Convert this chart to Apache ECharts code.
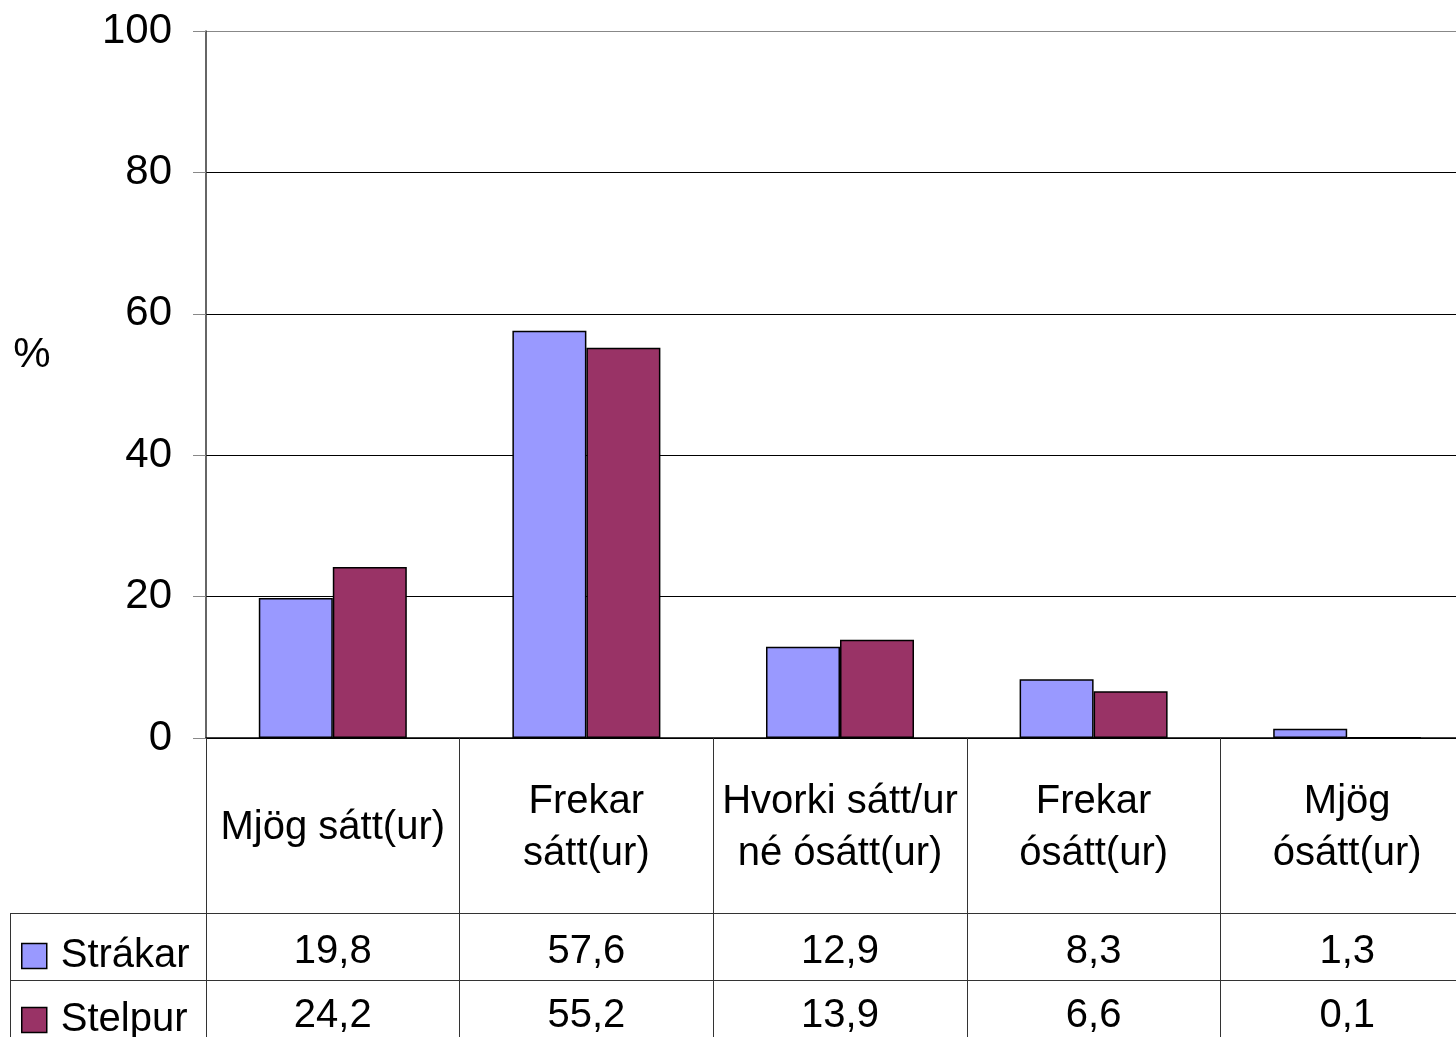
<!DOCTYPE html>
<html>
<head>
<meta charset="utf-8">
<script src="https://cdn.jsdelivr.net/npm/echarts@6/dist/echarts.min.js"></script>
<style>
html,body{margin:0;padding:0;background:#fff;overflow:hidden;width:1456px;height:1037px;}
#chart{width:1474px;height:1037px;}
</style>
</head>
<body>
<div id="chart"></div>
<script>
const categories = ['Mjög sátt(ur)', 'Frekar\nsátt(ur)', 'Hvorki sátt/ur\nné ósátt(ur)', 'Frekar\nósátt(ur)', 'Mjög\nósátt(ur)'];
const seriesNames = ['Strákar', 'Stelpur'];
const strakar = [19.8, 57.6, 12.9, 8.3, 1.3];
const stelpur = [24.2, 55.2, 13.9, 6.6, 0.1];
const yTicks = [0, 20, 40, 60, 80, 100];

const FONT = 'Liberation Sans, Arial, sans-serif';
const fmt = v => String(v.toFixed(1)).replace('.', ',');

const chart = echarts.init(document.getElementById('chart'), null, {renderer: 'canvas'});
const legendBase = {
  orient: 'horizontal',
  left: 16,
  itemWidth: 25,
  itemHeight: 25,
  icon: 'rect',
  textStyle: {fontFamily: FONT, fontSize: 40, color: '#000', lineHeight: 44, padding: [0, 0, 0, 9]},
  itemStyle: {borderColor: '#000', borderWidth: 1.5}
};
const option = {
  animation: false,
  backgroundColor: '#fff',
  textStyle: {fontFamily: FONT},
  grid: {left: 206, top: 31, right: 0, height: 707, containLabel: false},
  legend: [
    Object.assign({}, legendBase, {top: 929, data: [seriesNames[0]]}),
    Object.assign({}, legendBase, {top: 993, data: [seriesNames[1]]})
  ],
  xAxis: {
    type: 'category',
    data: categories,
    boundaryGap: true,
    axisLine: {show: true, lineStyle: {color: '#000', width: 1.5}},
    axisTick: {show: true, interval: 0, length: 299, lineStyle: {color: '#333', width: 1}},
    axisLabel: {
      interval: 0, margin: 90, verticalAlign: 'middle',
      fontFamily: FONT, fontSize: 40, lineHeight: 52, color: '#000'
    },
    splitLine: {show: false}
  },
  yAxis: {
    type: 'value',
    min: yTicks[0],
    max: yTicks[yTicks.length - 1],
    interval: 20,
    axisLine: {show: true, lineStyle: {color: '#333', width: 1.5}},
    axisTick: {show: true, length: 13, lineStyle: {color: '#888', width: 1}},
    axisLabel: {margin: 34, fontFamily: FONT, fontSize: 42, color: '#000'},
    splitLine: {show: true, lineStyle: {color: ['#000', '#000', '#000', '#000', '#000', '#888'], width: 1}}
  },
  series: [
    {
      name: seriesNames[0], type: 'bar', data: strakar, barWidth: 74, barGap: '0%',
      itemStyle: {color: '#9999FF', borderColor: '#000', borderWidth: 1.5}
    },
    {
      name: seriesNames[1], type: 'bar', data: stelpur, barWidth: 74, barGap: '0%',
      itemStyle: {color: '#993366', borderColor: '#000', borderWidth: 1.5}
    }
  ]
};
chart.setOption(option);

// Data table drawn from the arrays, positioned via the axis scale
const rows = [strakar, stelpur];
const rowY = [952, 1016];
const graphics = [];
[913, 980].forEach(y => {
  graphics.push({type: 'line', shape: {x1: 10, y1: y + 0.5, x2: 1474, y2: y + 0.5}, style: {stroke: '#333', lineWidth: 1}, silent: true});
});
graphics.push({type: 'line', shape: {x1: 10.5, y1: 913, x2: 10.5, y2: 1037}, style: {stroke: '#333', lineWidth: 1}, silent: true});
rows.forEach((arr, r) => {
  arr.forEach((v, i) => {
    const x = chart.convertToPixel({xAxisIndex: 0}, i);
    graphics.push({
      type: 'text', x: x, y: rowY[r], silent: true,
      style: {text: fmt(v), font: '40px ' + FONT, fill: '#000', align: 'center', verticalAlign: 'middle'}
    });
  });
});
graphics.push({
  type: 'text', x: 32, y: 355, silent: true,
  style: {text: '%', font: '42px ' + FONT, fill: '#000', align: 'center', verticalAlign: 'middle'}
});
chart.setOption({graphic: graphics});
</script>
</body>
</html>
